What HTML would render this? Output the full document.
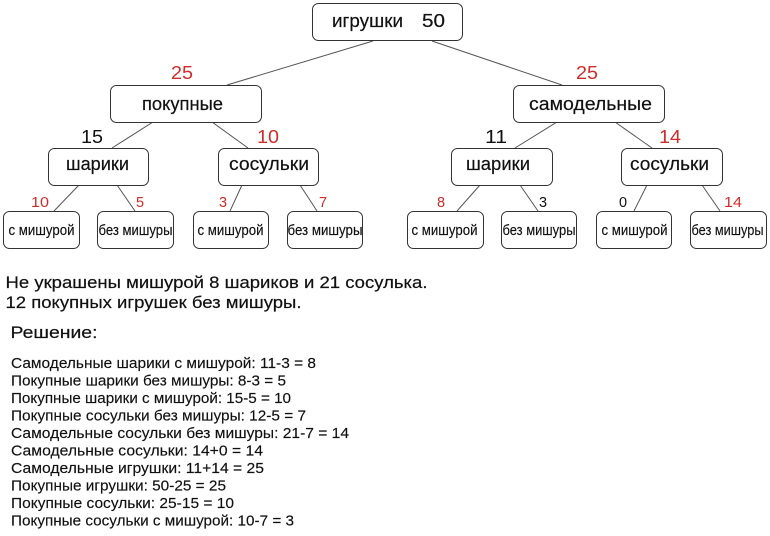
<!DOCTYPE html>
<html><head><meta charset="utf-8"><style>
html,body{margin:0;padding:0;background:#fff;}
svg{display:block;}
text{font-family:"Liberation Sans",Arial,sans-serif;}
</style></head><body>
<svg width="770" height="536" viewBox="0 0 770 536" xmlns="http://www.w3.org/2000/svg">
<g stroke="#555" stroke-width="1" fill="none">
<line x1="373" y1="41" x2="227" y2="85"/>
<line x1="432" y1="41" x2="562" y2="85"/>
<line x1="153" y1="122" x2="112" y2="148"/>
<line x1="212" y1="122" x2="248" y2="148"/>
<line x1="79" y1="185" x2="54" y2="211"/>
<line x1="117" y1="185" x2="135" y2="211"/>
<line x1="242" y1="185" x2="230" y2="211"/>
<line x1="300" y1="185" x2="317" y2="211"/>
<line x1="557" y1="122" x2="515" y2="148"/>
<line x1="615" y1="122" x2="652" y2="148"/>
<line x1="480" y1="185" x2="457" y2="211"/>
<line x1="520" y1="185" x2="538" y2="211"/>
<line x1="647" y1="185" x2="634" y2="211"/>
<line x1="702" y1="185" x2="720" y2="211"/>
</g>
<g stroke="#333" stroke-width="1" fill="#fff">
<rect x="312.5" y="3.5" width="150" height="37" rx="6"/>
<rect x="110.5" y="85.5" width="151" height="37" rx="6"/>
<rect x="513.5" y="85.5" width="151" height="37" rx="6"/>
<rect x="48.5" y="148.5" width="100" height="37" rx="6"/>
<rect x="218.5" y="148.5" width="100" height="37" rx="6"/>
<rect x="451.5" y="148.5" width="101" height="37" rx="6"/>
<rect x="621.5" y="148.5" width="101" height="37" rx="6"/>
<rect x="3.5" y="211.5" width="76" height="37" rx="6"/>
<rect x="97.5" y="211.5" width="76" height="37" rx="6"/>
<rect x="193.5" y="211.5" width="75" height="37" rx="6"/>
<rect x="287.5" y="211.5" width="75" height="37" rx="6"/>
<rect x="407.5" y="211.5" width="76" height="37" rx="6"/>
<rect x="501.5" y="211.5" width="75" height="37" rx="6"/>
<rect x="596.5" y="211.5" width="75" height="37" rx="6"/>
<rect x="690.5" y="211.5" width="76" height="37" rx="6"/>
</g>
<g fill="#111" font-size="18.5" stroke="#111" stroke-width="0.2">
<text x="332" y="27" textLength="71" lengthAdjust="spacingAndGlyphs">игрушки</text>
<text x="422" y="27" textLength="23" lengthAdjust="spacingAndGlyphs">50</text>
<text x="142" y="110" textLength="81" lengthAdjust="spacingAndGlyphs">покупные</text>
<text x="529" y="110" textLength="123" lengthAdjust="spacingAndGlyphs">самодельные</text>
<text x="66" y="170" textLength="63" lengthAdjust="spacingAndGlyphs">шарики</text>
<text x="229" y="170" textLength="80" lengthAdjust="spacingAndGlyphs">сосульки</text>
<text x="466" y="170" textLength="64" lengthAdjust="spacingAndGlyphs">шарики</text>
<text x="630" y="170" textLength="79" lengthAdjust="spacingAndGlyphs">сосульки</text>
</g>
<g fill="#111" font-size="15" stroke="#111" stroke-width="0.15">
<text x="8.5" y="235" textLength="66" lengthAdjust="spacingAndGlyphs">с мишурой</text>
<text x="98.5" y="235" textLength="74" lengthAdjust="spacingAndGlyphs">без мишуры</text>
<text x="197.5" y="235" textLength="66" lengthAdjust="spacingAndGlyphs">с мишурой</text>
<text x="287.5" y="235" textLength="75" lengthAdjust="spacingAndGlyphs">без мишуры</text>
<text x="411.5" y="235" textLength="66" lengthAdjust="spacingAndGlyphs">с мишурой</text>
<text x="502.5" y="235" textLength="73" lengthAdjust="spacingAndGlyphs">без мишуры</text>
<text x="601.5" y="235" textLength="66" lengthAdjust="spacingAndGlyphs">с мишурой</text>
<text x="691.5" y="235" textLength="72" lengthAdjust="spacingAndGlyphs">без мишуры</text>
</g>
<g font-size="18.5">
<text x="171" y="79" fill="#d02c2c" textLength="22" lengthAdjust="spacingAndGlyphs">25</text>
<text x="576" y="79" fill="#d02c2c" textLength="22" lengthAdjust="spacingAndGlyphs">25</text>
<text x="81" y="143" fill="#111" textLength="22" lengthAdjust="spacingAndGlyphs">15</text>
<text x="257" y="143" fill="#d02c2c" textLength="22" lengthAdjust="spacingAndGlyphs">10</text>
<text x="485" y="143" fill="#111" textLength="22" lengthAdjust="spacingAndGlyphs">11</text>
<text x="659" y="143" fill="#d02c2c" textLength="22" lengthAdjust="spacingAndGlyphs">14</text>
</g>
<g font-size="14.5">
<text x="31" y="207" fill="#d02c2c" textLength="18" lengthAdjust="spacingAndGlyphs">10</text>
<text x="136" y="207" fill="#d02c2c">5</text>
<text x="219" y="207" fill="#d02c2c">3</text>
<text x="319" y="207" fill="#d02c2c">7</text>
<text x="437" y="207" fill="#d02c2c">8</text>
<text x="539" y="207" fill="#111">3</text>
<text x="619" y="207" fill="#111">0</text>
<text x="724" y="207" fill="#d02c2c" textLength="18" lengthAdjust="spacingAndGlyphs">14</text>
</g>
<g fill="#111" font-size="16.5" stroke="#111" stroke-width="0.2">
<text x="5.5" y="288" textLength="422" lengthAdjust="spacingAndGlyphs">Не украшены мишурой 8 шариков и 21 сосулька.</text>
<text x="5.5" y="308" textLength="296" lengthAdjust="spacingAndGlyphs">12 покупных игрушек без мишуры.</text>
<text x="10.5" y="338" textLength="87" lengthAdjust="spacingAndGlyphs">Решение:</text>
</g>
<g fill="#111" font-size="15" stroke="#111" stroke-width="0.15">
<text x="11" y="368" textLength="305" lengthAdjust="spacingAndGlyphs">Самодельные шарики с мишурой: 11-3 = 8</text>
<text x="11" y="385.5" textLength="275" lengthAdjust="spacingAndGlyphs">Покупные шарики без мишуры: 8-3 = 5</text>
<text x="11" y="403" textLength="280" lengthAdjust="spacingAndGlyphs">Покупные шарики с мишурой: 15-5 = 10</text>
<text x="11" y="420.5" textLength="295" lengthAdjust="spacingAndGlyphs">Покупные сосульки без мишуры: 12-5 = 7</text>
<text x="11" y="438" textLength="338" lengthAdjust="spacingAndGlyphs">Самодельные сосульки без мишуры: 21-7 = 14</text>
<text x="11" y="455.5" textLength="252" lengthAdjust="spacingAndGlyphs">Самодельные сосульки: 14+0 = 14</text>
<text x="11" y="473" textLength="253" lengthAdjust="spacingAndGlyphs">Самодельные игрушки: 11+14 = 25</text>
<text x="11" y="490.5" textLength="215" lengthAdjust="spacingAndGlyphs">Покупные игрушки: 50-25 = 25</text>
<text x="11" y="508" textLength="223" lengthAdjust="spacingAndGlyphs">Покупные сосульки: 25-15 = 10</text>
<text x="11" y="525.5" textLength="283" lengthAdjust="spacingAndGlyphs">Покупные сосульки с мишурой: 10-7 = 3</text>
</g>
</svg>
</body></html>
